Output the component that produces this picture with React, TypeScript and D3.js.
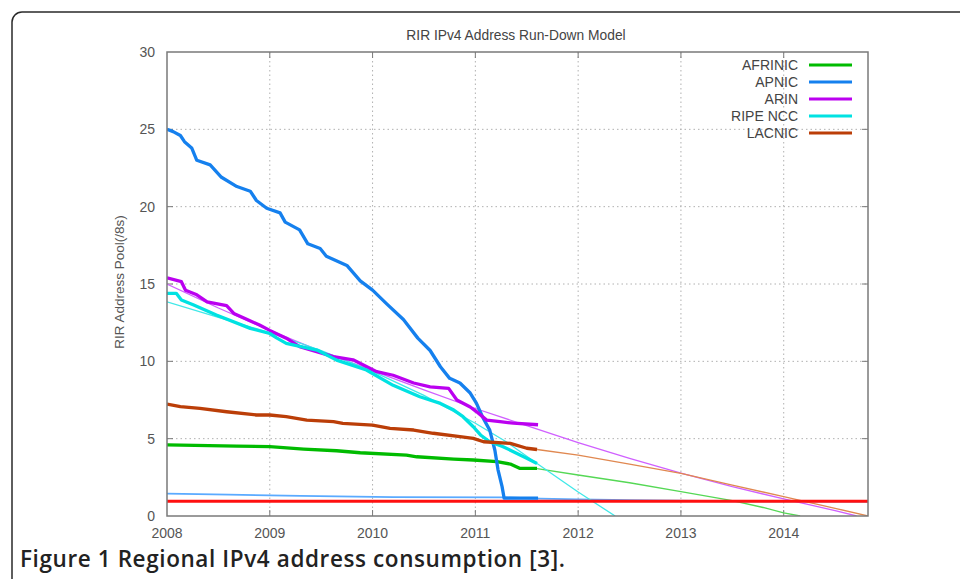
import React from "react";
import * as d3 from "d3";

type P = [number, number];

const xTicks = [2008, 2009, 2010, 2011, 2012, 2013, 2014];
const yTicks = [0, 5, 10, 15, 20, 25, 30];
const legendNames = ["AFRINIC", "APNIC", "ARIN", "RIPE NCC", "LACNIC"];

const apnic: P[] = [[2008.0,25.0],[2008.06,24.85],[2008.13,24.6],[2008.17,24.2],[2008.24,23.8],[2008.29,23.0],[2008.42,22.7],[2008.53,21.9],[2008.68,21.3],[2008.81,21.0],[2008.87,20.4],[2008.97,19.9],[2009.10,19.6],[2009.15,19.0],[2009.29,18.5],[2009.37,17.6],[2009.49,17.3],[2009.55,16.8],[2009.75,16.2],[2009.88,15.2],[2010.0,14.6],[2010.14,13.7],[2010.30,12.7],[2010.44,11.5],[2010.56,10.7],[2010.66,9.65],[2010.75,8.9],[2010.85,8.6],[2010.95,7.95],[2011.01,7.3],[2011.07,6.4],[2011.14,5.55],[2011.19,4.25],[2011.22,3.0],[2011.26,1.9],[2011.28,1.15],[2011.61,1.15]];
const apnicModel: P[] = [[2008,1.45],[2008.6,1.38],[2009.3,1.3],[2010.2,1.22],[2011.3,1.2],[2011.63,1.12],[2012.0,1.08],[2012.5,1.03],[2013.2,0.97],[2013.6,0.95],[2014.82,0.93]];

const arin: P[] = [[2008.0,15.4],[2008.14,15.15],[2008.18,14.6],[2008.29,14.3],[2008.39,13.85],[2008.58,13.6],[2008.65,13.1],[2008.78,12.7],[2008.90,12.35],[2009.0,12.0],[2009.16,11.5],[2009.29,10.95],[2009.62,10.3],[2009.81,10.1],[2010.04,9.33],[2010.20,9.1],[2010.40,8.6],[2010.56,8.35],[2010.74,8.25],[2010.82,7.5],[2010.95,7.05],[2011.01,6.75],[2011.11,6.2],[2011.24,6.1],[2011.37,6.0],[2011.61,5.9]];
const arinModel: P[] = [[2008,15.0],[2008.5,13.45],[2009,12.0],[2009.5,10.65],[2010,9.4],[2010.5,8.15],[2011,6.95],[2011.5,5.85],[2012,4.75],[2012.5,3.73],[2013,2.78],[2013.5,1.9],[2014,1.1],[2014.5,0.35],[2014.71,0]];

const ripe: P[] = [[2008.0,14.4],[2008.09,14.4],[2008.14,13.96],[2008.26,13.64],[2008.48,13.0],[2008.81,12.13],[2009.0,11.8],[2009.07,11.5],[2009.16,11.16],[2009.46,10.73],[2009.65,10.08],[2009.94,9.44],[2010.20,8.45],[2010.46,7.71],[2010.66,7.28],[2010.79,6.85],[2010.88,6.42],[2010.98,5.77],[2011.05,5.24],[2011.14,4.8],[2011.27,4.48],[2011.37,4.16],[2011.50,3.73],[2011.6,3.4]];
const ripeModel: P[] = [[2008,13.85],[2008.5,12.85],[2009,11.85],[2009.5,10.7],[2010,9.35],[2010.5,7.8],[2011,6.0],[2011.3,4.8],[2011.6,3.4],[2012,1.55],[2012.36,0]];

const lacnic: P[] = [[2008.0,7.24],[2008.13,7.07],[2008.32,6.96],[2008.58,6.74],[2008.87,6.53],[2009.0,6.53],[2009.16,6.42],[2009.36,6.2],[2009.62,6.1],[2009.71,5.99],[2010.0,5.88],[2010.17,5.67],[2010.40,5.56],[2010.59,5.35],[2010.85,5.13],[2010.98,5.02],[2011.08,4.8],[2011.34,4.7],[2011.50,4.38],[2011.6,4.3]];
const lacnicModel: P[] = [[2011.6,4.3],[2012,3.94],[2012.5,3.35],[2013,2.76],[2013.5,2.0],[2014,1.25],[2014.5,0.5],[2014.82,0]];

const afrinic: P[] = [[2008.0,4.6],[2008.68,4.52],[2009.0,4.48],[2009.33,4.33],[2009.65,4.22],[2009.88,4.09],[2010.33,3.94],[2010.43,3.83],[2010.79,3.68],[2010.98,3.62],[2011.21,3.51],[2011.34,3.36],[2011.43,3.08],[2011.6,3.08]];
const afrinicModel: P[] = [[2011.6,3.06],[2012,2.65],[2012.5,2.15],[2013,1.57],[2013.5,1.0],[2013.8,0.55],[2014,0.2],[2014.16,0]];

const reserve: P[] = [[2008, 0.95], [2014.82, 0.95]];

const thickColors = ["#00bb00", "#1580ee", "#bb00f0", "#00e2e2", "#bb3e08"];
const thinColors = ["#55d855", "#5aaaff", "#d060ff", "#40e8e8", "#e08850"];

export default function App() {
  const left = 167, right = 868, top = 52, bottom = 516;
  const x = d3.scaleLinear().domain([2008, 2014.82]).range([left, right]);
  const y = d3.scaleLinear().domain([0, 30]).range([bottom, top]);
  const line = d3.line<P>().x(d => x(d[0])).y(d => y(d[1]));

  const thick = [afrinic, apnic, arin, ripe, lacnic];
  const thin = [afrinicModel, apnicModel, arinModel, ripeModel, lacnicModel];
  const axisColor = "#7a7a7a";
  const textColor = "#555";
  const font = "'Liberation Sans', Arial, sans-serif";

  return (
    <svg width={960} height={579} style={{ position: "absolute", left: 0, top: 0, background: "#fff" }}>
      <rect x={12} y={12} width={1000} height={700} rx={10} ry={10} fill="#fff" stroke="#2a2a2a" strokeWidth={1.5} />
      <defs>
        <clipPath id="plot">
          <rect x={left} y={top} width={right - left} height={bottom - top} />
        </clipPath>
      </defs>
      {xTicks.slice(1).map(t => (
        <line key={"gx" + t} x1={x(t)} x2={x(t)} y1={top} y2={bottom} stroke="#b0b0b0" strokeWidth={1} strokeDasharray="1.5,3" />
      ))}
      {yTicks.slice(1, -1).map(t => (
        <line key={"gy" + t} x1={left} x2={right} y1={y(t)} y2={y(t)} stroke="#b0b0b0" strokeWidth={1} strokeDasharray="1.5,3" />
      ))}
      {xTicks.slice(1).map(t => (
        <g key={"tx" + t}>
          <line x1={x(t)} x2={x(t)} y1={bottom} y2={bottom - 6} stroke={axisColor} strokeWidth={1} />
          <line x1={x(t)} x2={x(t)} y1={top} y2={top + 6} stroke={axisColor} strokeWidth={1} />
        </g>
      ))}
      {yTicks.slice(1, -1).map(t => (
        <g key={"ty" + t}>
          <line x1={left} x2={left + 6} y1={y(t)} y2={y(t)} stroke={axisColor} strokeWidth={1} />
          <line x1={right} x2={right - 6} y1={y(t)} y2={y(t)} stroke={axisColor} strokeWidth={1} />
        </g>
      ))}
      <g clipPath="url(#plot)" fill="none" strokeLinejoin="round">
        {thin.map((d, i) => (
          <path key={"thin" + i} d={line(d) || ""} stroke={thinColors[i]} strokeWidth={i === 1 ? 1.8 : 1.3} />
        ))}
        <path d={line(reserve) || ""} stroke="#ff1010" strokeWidth={3} />
        {thick.map((d, i) => (
          <path key={"thick" + i} d={line(d) || ""} stroke={thickColors[i]} strokeWidth={3.3} />
        ))}
      </g>
      <rect x={left} y={top} width={right - left} height={bottom - top} fill="none" stroke={axisColor} strokeWidth={1.5} />
      {xTicks.map(t => (
        <text key={"lx" + t} x={x(t)} y={537.5} textAnchor="middle" fontFamily={font} fontSize={14} fill={textColor}>{t}</text>
      ))}
      {yTicks.map(t => (
        <text key={"ly" + t} x={155} y={y(t) + 5} textAnchor="end" fontFamily={font} fontSize={14} fill={textColor}>{t}</text>
      ))}
      <text x={516} y={40} textAnchor="middle" fontFamily={font} fontSize={13.8} fill="#444">RIR IPv4 Address Run-Down Model</text>
      <text transform="translate(124,282) rotate(-90)" textAnchor="middle" fontFamily={font} fontSize={13.5} fill={textColor}>RIR Address Pool(/8s)</text>
      {legendNames.map((n, i) => (
        <g key={"lg" + n}>
          <text x={798} y={65 + i * 17 + 5} textAnchor="end" fontFamily={font} fontSize={14} fill="#444">{n}</text>
          <line x1={809} x2={852} y1={65 + i * 17} y2={65 + i * 17} stroke={thickColors[i]} strokeWidth={3} />
        </g>
      ))}
      <text x={20} y={567} fontFamily="'Open Sans', 'Noto Sans', sans-serif" fontWeight={600} fontSize={22.5} letterSpacing={0.6} fill="#222">Figure 1 Regional IPv4 address consumption [3].</text>
    </svg>
  );
}
